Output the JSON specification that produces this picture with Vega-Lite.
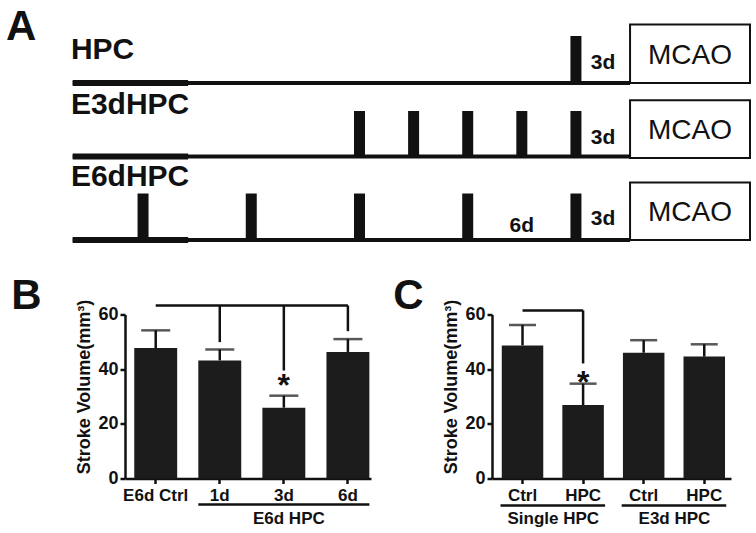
{
  "$schema": "https://vega.github.io/schema/vega-lite/v6.json",
  "background": "white",
  "padding": {"left": 6, "top": 6, "right": 0, "bottom": 0},
  "bounds": "flush",
  "spacing": 74.5,
  "config": {
    "view": {"stroke": null},
    "font": "Liberation Sans",
    "axis": {
      "domainColor": "#111", "domainWidth": 2.5, "tickColor": "#111", "tickWidth": 2.5, "tickSize": 5,
      "labelColor": "#111", "labelFont": "Liberation Sans", "labelFontWeight": "bold",
      "titleFont": "Liberation Sans", "titleColor": "#111", "titleFontWeight": "bold", "grid": false,
      "labelOverlap": false
    }
  },
  "vconcat": [
    {
      "width": 625, "height": 220,
      "title": {"text": "A", "orient": "left", "anchor": "end", "frame": "group", "angle": 0, "align": "right", "fontSize": 42, "fontWeight": "bold", "font": "Liberation Sans", "color": "#111", "offset": 3, "baseline": "alphabetic", "dy": 20},
      "layer": [
        {
          "data": {"values": [
            {"protocol": "HPC", "start": -30.9, "end": 0, "thickEnd": -24.5, "level": 15.7},
            {"protocol": "E3dHPC", "start": -30.9, "end": 0, "thickEnd": -24.5, "level": 8.35},
            {"protocol": "E6dHPC", "start": -30.9, "end": 0, "thickEnd": -24.5, "level": 0}
          ]},
          "layer": [
            {
              "mark": {"type": "rule", "strokeWidth": 4, "color": "#111"},
              "encoding": {
                "x": {"field": "start", "type": "quantitative", "scale": {"domain": [-28, 6.65], "nice": false, "zero": false}, "axis": null},
                "x2": {"field": "end"},
                "y": {"field": "level", "type": "quantitative", "scale": {"domain": [0, 22], "nice": false, "zero": false}, "axis": null}
              }
            },
            {
              "mark": {"type": "rule", "strokeWidth": 6, "color": "#111"},
              "encoding": {
                "x": {"field": "start", "type": "quantitative"},
                "x2": {"field": "thickEnd"},
                "y": {"field": "level", "type": "quantitative"}
              }
            }
          ]
        },
        {
          "data": {"values": [
            {"protocol": "HPC", "day": -3, "base": 15.7, "top": 20.4},
            {"protocol": "E3dHPC", "day": -15, "base": 8.35, "top": 12.9},
            {"protocol": "E3dHPC", "day": -12, "base": 8.35, "top": 12.9},
            {"protocol": "E3dHPC", "day": -9, "base": 8.35, "top": 12.9},
            {"protocol": "E3dHPC", "day": -6, "base": 8.35, "top": 12.9},
            {"protocol": "E3dHPC", "day": -3, "base": 8.35, "top": 12.9},
            {"protocol": "E6dHPC", "day": -27, "base": 0, "top": 4.65},
            {"protocol": "E6dHPC", "day": -21, "base": 0, "top": 4.65},
            {"protocol": "E6dHPC", "day": -15, "base": 0, "top": 4.65},
            {"protocol": "E6dHPC", "day": -9, "base": 0, "top": 4.65},
            {"protocol": "E6dHPC", "day": -3, "base": 0, "top": 4.65}
          ]},
          "mark": {"type": "rule", "strokeWidth": 11, "color": "#111"},
          "encoding": {
            "x": {"field": "day", "type": "quantitative"},
            "y": {"field": "base", "type": "quantitative"},
            "y2": {"field": "top"}
          }
        },
        {
          "data": {"values": [
            {"protocol": "HPC", "start": 0, "end": 6.65, "bottom": 15.7, "top": 21.55, "mid": 18.45, "label": "MCAO"},
            {"protocol": "E3dHPC", "start": 0, "end": 6.65, "bottom": 8.2, "top": 13.98, "mid": 10.9, "label": "MCAO"},
            {"protocol": "E6dHPC", "start": 0, "end": 6.65, "bottom": 0, "top": 5.75, "mid": 2.75, "label": "MCAO"}
          ]},
          "layer": [
            {
              "mark": {"type": "rect", "fill": "white", "stroke": "#111", "strokeWidth": 2},
              "encoding": {
                "x": {"field": "start", "type": "quantitative"},
                "x2": {"field": "end"},
                "y": {"field": "bottom", "type": "quantitative"},
                "y2": {"field": "top"}
              }
            },
            {
              "transform": [{"calculate": "(datum.start + datum.end) / 2", "as": "center"}],
              "mark": {"type": "text", "fontSize": 28, "font": "Liberation Sans", "color": "#111", "align": "center", "baseline": "middle"},
              "encoding": {
                "x": {"field": "center", "type": "quantitative"},
                "y": {"field": "mid", "type": "quantitative"},
                "text": {"field": "label"}
              }
            }
          ]
        },
        {
          "data": {"values": [
            {"label": "3d", "day": -1.5, "y": 17.12},
            {"label": "3d", "day": -1.5, "y": 9.65},
            {"label": "3d", "day": -1.5, "y": 1.48},
            {"label": "6d", "day": -6, "y": 0.78}
          ]},
          "mark": {"type": "text", "fontSize": 21, "fontWeight": "bold", "font": "Liberation Sans", "color": "#111", "align": "center", "baseline": "alphabetic"},
          "encoding": {
            "x": {"field": "day", "type": "quantitative"},
            "y": {"field": "y", "type": "quantitative"},
            "text": {"field": "label"}
          }
        },
        {
          "data": {"values": [
            {"label": "HPC", "day": -31, "y": 18.15},
            {"label": "E3dHPC", "day": -31, "y": 12.65},
            {"label": "E6dHPC", "day": -31, "y": 5.45}
          ]},
          "mark": {"type": "text", "fontSize": 30, "fontWeight": "bold", "font": "Liberation Sans", "color": "#111", "align": "left", "baseline": "alphabetic"},
          "encoding": {
            "x": {"field": "day", "type": "quantitative"},
            "y": {"field": "y", "type": "quantitative"},
            "text": {"field": "label"}
          }
        }
      ]
    },
    {
      "bounds": "flush",
      "spacing": 121,
      "hconcat": [
        {
          "width": 246, "height": 164,
          "title": {"text": "B", "orient": "left", "anchor": "end", "frame": "group", "angle": 0, "align": "right", "fontSize": 42, "fontWeight": "bold", "font": "Liberation Sans", "color": "#111", "offset": 4, "baseline": "alphabetic", "dy": -6},
          "layer": [
            {
              "data": {"values": [
                {"group": "E6d Ctrl", "mean": 47.7, "upper": 54.2},
                {"group": "1d", "mean": 43.2, "upper": 47.2},
                {"group": "3d", "mean": 25.9, "upper": 30.3},
                {"group": "6d", "mean": 46.3, "upper": 51.0}
              ]},
              "layer": [
                {
                  "mark": {"type": "bar", "color": "#1c1c1c"},
                  "encoding": {
                    "x": {"field": "group", "type": "nominal", "scale": {"domain": ["E6d Ctrl", "1d", "3d", "6d"], "paddingInner": 0.33, "paddingOuter": 0.085, "align": 0.85},
                      "axis": {"title": null, "labelAngle": 0, "labelFontSize": 17, "labelPadding": 4}},
                    "y": {"field": "mean", "type": "quantitative", "scale": {"domain": [0, 60], "nice": false},
                      "axis": {"values": [0, 20, 40, 60], "title": "Stroke Volume(mm³)", "labelFontSize": 18, "labelPadding": 2, "titleFontSize": 18, "titlePadding": 4, "titleY": 72}}
                  }
                },
                {
                  "mark": {"type": "rule", "strokeWidth": 2.5, "color": "#111"},
                  "encoding": {
                    "x": {"field": "group", "type": "nominal"},
                    "y": {"field": "mean", "type": "quantitative"},
                    "y2": {"field": "upper"}
                  }
                },
                {
                  "mark": {"type": "tick", "orient": "horizontal", "size": 29, "thickness": 2.5, "color": "#111"},
                  "encoding": {
                    "x": {"field": "group", "type": "nominal"},
                    "y": {"field": "upper", "type": "quantitative"}
                  }
                }
              ]
            },
            {
              "data": {"values": [{"from": "E6d Ctrl", "to": "6d", "level": 63.3}]},
              "mark": {"type": "rule", "strokeWidth": 2.5, "color": "#111"},
              "encoding": {
                "x": {"field": "from", "type": "nominal"},
                "x2": {"field": "to"},
                "y": {"field": "level", "type": "quantitative"}
              }
            },
            {
              "data": {"values": [
                {"group": "1d", "top": 63.3, "bottom": 49.9},
                {"group": "3d", "top": 63.3, "bottom": 39.5},
                {"group": "6d", "top": 63.3, "bottom": 53.9}
              ]},
              "mark": {"type": "rule", "strokeWidth": 2.5, "color": "#111"},
              "encoding": {
                "x": {"field": "group", "type": "nominal"},
                "y": {"field": "top", "type": "quantitative"},
                "y2": {"field": "bottom"}
              }
            },
            {
              "data": {"values": [{"group": "3d", "level": 30.3, "mark": "*"}]},
              "mark": {"type": "text", "fontSize": 32, "fontWeight": "bold", "font": "Liberation Sans", "color": "#111", "align": "center", "baseline": "alphabetic"},
              "encoding": {
                "x": {"field": "group", "type": "nominal"},
                "y": {"field": "level", "type": "quantitative"},
                "text": {"field": "mark"}
              }
            },
            {
              "data": {"values": [{"first": "1d", "last": "6d", "middle": "3d", "label": "E6d HPC", "lineLevel": -9.5, "textLevel": -16.8}]},
              "layer": [
                {
                  "mark": {"type": "rule", "strokeWidth": 2.5, "color": "#111"},
                  "encoding": {
                    "x": {"field": "first", "type": "nominal", "bandPosition": 0},
                    "x2": {"field": "last", "bandPosition": 1},
                    "y": {"field": "lineLevel", "type": "quantitative"}
                  }
                },
                {
                  "mark": {"type": "text", "fontSize": 17, "fontWeight": "bold", "font": "Liberation Sans", "color": "#111", "align": "center", "baseline": "alphabetic", "dx": 5},
                  "encoding": {
                    "x": {"field": "middle", "type": "nominal"},
                    "y": {"field": "textLevel", "type": "quantitative"},
                    "text": {"field": "label"}
                  }
                }
              ]
            }
          ]
        },
        {
          "width": 239, "height": 164,
          "title": {"text": "C", "orient": "left", "anchor": "end", "frame": "group", "angle": 0, "align": "right", "fontSize": 42, "fontWeight": "bold", "font": "Liberation Sans", "color": "#111", "offset": -11, "baseline": "alphabetic", "dy": -6},
          "layer": [
            {
              "data": {"values": [
                {"cond": "Single|Ctrl", "mean": 48.7, "upper": 56.2},
                {"cond": "Single|HPC", "mean": 26.9, "upper": 34.7},
                {"cond": "E3d|Ctrl", "mean": 46.0, "upper": 50.6},
                {"cond": "E3d|HPC", "mean": 44.6, "upper": 49.1}
              ]},
              "layer": [
                {
                  "mark": {"type": "bar", "color": "#1c1c1c"},
                  "encoding": {
                    "x": {"field": "cond", "type": "nominal", "scale": {"domain": ["Single|Ctrl", "Single|HPC", "E3d|Ctrl", "E3d|HPC"], "paddingInner": 0.315, "paddingOuter": 0.13, "align": 0.62},
                      "axis": {"title": null, "labelAngle": 0, "labelFontSize": 17, "labelPadding": 4, "labelExpr": "split(datum.label, '|')[1]"}},
                    "y": {"field": "mean", "type": "quantitative", "scale": {"domain": [0, 60], "nice": false},
                      "axis": {"values": [0, 20, 40, 60], "title": "Stroke Volume(mm³)", "labelFontSize": 18, "labelPadding": 2, "titleFontSize": 18, "titlePadding": 4, "titleY": 72}}
                  }
                },
                {
                  "mark": {"type": "rule", "strokeWidth": 2.5, "color": "#111"},
                  "encoding": {
                    "x": {"field": "cond", "type": "nominal"},
                    "y": {"field": "mean", "type": "quantitative"},
                    "y2": {"field": "upper"}
                  }
                },
                {
                  "mark": {"type": "tick", "orient": "horizontal", "size": 27, "thickness": 2.5, "color": "#111"},
                  "encoding": {
                    "x": {"field": "cond", "type": "nominal"},
                    "y": {"field": "upper", "type": "quantitative"}
                  }
                }
              ]
            },
            {
              "data": {"values": [{"from": "Single|Ctrl", "to": "Single|HPC", "level": 61.5}]},
              "mark": {"type": "rule", "strokeWidth": 2.5, "color": "#111"},
              "encoding": {
                "x": {"field": "from", "type": "nominal"},
                "x2": {"field": "to"},
                "y": {"field": "level", "type": "quantitative"}
              }
            },
            {
              "data": {"values": [{"cond": "Single|HPC", "top": 61.5, "bottom": 42.1}]},
              "mark": {"type": "rule", "strokeWidth": 2.5, "color": "#111"},
              "encoding": {
                "x": {"field": "cond", "type": "nominal"},
                "y": {"field": "top", "type": "quantitative"},
                "y2": {"field": "bottom"}
              }
            },
            {
              "data": {"values": [{"cond": "Single|HPC", "level": 31.2, "mark": "*"}]},
              "mark": {"type": "text", "fontSize": 32, "fontWeight": "bold", "font": "Liberation Sans", "color": "#111", "align": "center", "baseline": "alphabetic"},
              "encoding": {
                "x": {"field": "cond", "type": "nominal"},
                "y": {"field": "level", "type": "quantitative"},
                "text": {"field": "mark"}
              }
            },
            {
              "data": {"values": [
                {"first": "Single|Ctrl", "last": "Single|HPC", "label": "Single HPC", "lineLevel": -9.9, "textLevel": -16.5},
                {"first": "E3d|Ctrl", "last": "E3d|HPC", "label": "E3d HPC", "lineLevel": -9.9, "textLevel": -16.5}
              ]},
              "layer": [
                {
                  "mark": {"type": "rule", "strokeWidth": 2.5, "color": "#111", "strokeCap": "square"},
                  "encoding": {
                    "x": {"field": "first", "type": "nominal", "bandPosition": 0},
                    "x2": {"field": "last", "bandPosition": 1},
                    "y": {"field": "lineLevel", "type": "quantitative"}
                  }
                },
                {
                  "mark": {"type": "text", "fontSize": 17, "fontWeight": "bold", "font": "Liberation Sans", "color": "#111", "align": "center", "baseline": "alphabetic", "dx": 10},
                  "encoding": {
                    "x": {"field": "first", "type": "nominal", "bandPosition": 1},
                    "y": {"field": "textLevel", "type": "quantitative"},
                    "text": {"field": "label"}
                  }
                }
              ]
            }
          ]
        }
      ]
    }
  ]
}
